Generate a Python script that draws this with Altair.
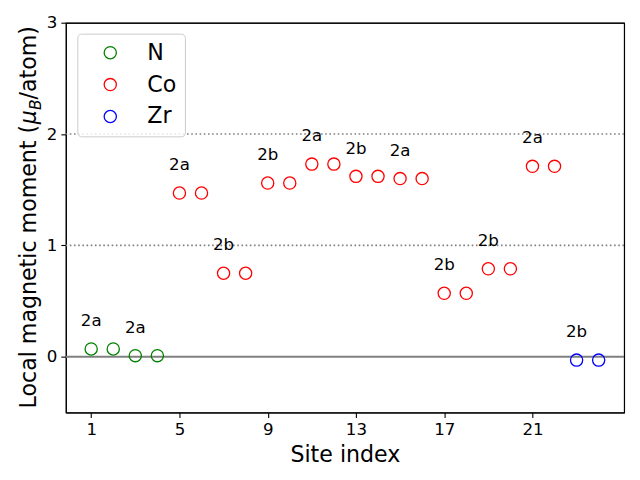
import altair as alt
import pandas as pd

# ---- data ----
sites = list(range(1, 25))
species = ["N"] * 4 + ["Co"] * 18 + ["Zr"] * 2
moments = [0.07, 0.07, 0.01, 0.01,
           1.47, 1.47, 0.75, 0.75, 1.56, 1.56, 1.73, 1.73,
           1.62, 1.62, 1.60, 1.60, 0.57, 0.57, 0.79, 0.79,
           1.71, 1.71,
           -0.03, -0.03]
label_sites = [1, 3, 5, 7, 9, 11, 13, 15, 17, 19, 21, 23]
wyckoff = ["2a", "2a", "2a", "2b", "2b", "2a", "2b", "2a", "2b", "2b", "2a", "2b"]
species_order = ["N", "Co", "Zr"]
species_colors = ["green", "red", "blue"]
ref_levels = [0, 1, 2]
ref_dash = ["solid", "dot", "dot"]
x_ticks = [1, 5, 9, 13, 17, 21]
y_ticks = [0, 1, 2, 3]
x_domain = [-0.15, 25.15]
y_domain = [-0.5, 3]
ytitle_parts = ["Local magnetic moment (", "μ", "B", "/atom)"]

df = pd.DataFrame({"site": sites, "species": species, "moment": moments})
mom = dict(zip(sites, moments))
lab = pd.DataFrame({"site": label_sites, "label": wyckoff,
                    "moment": [mom[s] for s in label_sites]})
ref = pd.DataFrame({"level": ref_levels, "dash": ref_dash})
one = pd.DataFrame({"a": [0]})

FONT = "DejaVu Sans"
W, H = 560, 391
FS_T = 22.2

xscale = alt.Scale(domain=x_domain, nice=False, zero=False)
yscale = alt.Scale(domain=y_domain, nice=False, zero=False)

xaxis = alt.Axis(values=x_ticks, title="Site index", grid=False, format="d", orient="bottom",
                 labelFontSize=16.7, titleFontSize=FS_T, labelFont=FONT, titleFont=FONT,
                 titleFontWeight="normal", labelColor="black", titleColor="black",
                 tickColor="black", domainColor="black", tickSize=5, tickWidth=1.1,
                 domainWidth=1.1, labelPadding=4, titlePadding=6, labelFlush=False)
yaxis = alt.Axis(values=y_ticks, title=None, grid=False, format="d", orient="left",
                 labelFontSize=16.7, labelFont=FONT, labelColor="black",
                 tickColor="black", domainColor="black", tickSize=5, tickWidth=1.1,
                 domainWidth=1.1, labelPadding=4, labelFlush=False)
top_axis = alt.Axis(orient="top", labels=False, ticks=False, grid=False, title=None,
                    domainColor="black", domainWidth=1.1)
right_axis = alt.Axis(orient="right", labels=False, ticks=False, grid=False, title=None,
                      domainColor="black", domainWidth=1.1)

# invisible layer that only carries the top and right spines
frame = alt.Chart(df).mark_point(opacity=0).encode(
    x=alt.X("site:Q", scale=xscale, axis=top_axis),
    y=alt.Y("moment:Q", scale=yscale, axis=right_axis))

rules_solid = alt.Chart(ref).transform_filter(alt.datum.dash == "solid").mark_rule(
    color="#808080", strokeWidth=2).encode(y=alt.Y("level:Q", scale=yscale, axis=yaxis))
rules_dot = alt.Chart(ref).transform_filter(alt.datum.dash == "dot").mark_rule(
    color="#808080", strokeWidth=1.6, strokeDash=[1.6, 2.6]).encode(
    y=alt.Y("level:Q", scale=yscale, axis=None))

points = alt.Chart(df).mark_point(shape="circle", filled=False, size=150, strokeWidth=1.3,
                                  opacity=1).encode(
    x=alt.X("site:Q", scale=xscale, axis=xaxis),
    y=alt.Y("moment:Q", scale=yscale, axis=None),
    color=alt.Color("species:N",
                    scale=alt.Scale(domain=species_order, range=species_colors),
                    sort=species_order,
                    legend=alt.Legend(title=None, orient="none", legendX=11.5, legendY=11,
                                      labelFontSize=FS_T, labelFont=FONT, labelColor="black",
                                      symbolSize=150, symbolStrokeWidth=1.3, symbolType="circle",
                                      symbolFillColor="transparent", symbolOpacity=1,
                                      padding=8, symbolOffset=14, labelOffset=26,
                                      rowPadding=9, fillColor="rgba(255,255,255,0.8)",
                                      strokeColor="#cccccc", cornerRadius=4)),
)

texts = alt.Chart(lab).transform_calculate(ly="datum.moment + 0.25").mark_text(
    fontSize=16.7, font=FONT, color="black", baseline="middle", align="center").encode(
    x=alt.X("site:Q", scale=xscale, axis=None),
    y=alt.Y("ly:Q", scale=yscale, axis=None),
    text="label:N")

# y-axis title built from pieces (italic mu with subscript B)
TX = -29.5
y_bottom = 387
seg1_len = 12.846 * FS_T
y_mu = y_bottom - seg1_len
y_top = 3.4
seg4_len = 3.318 * FS_T
y_b_end = y_top + seg4_len

t1 = alt.Chart(one).mark_text(angle=270, align="left", baseline="alphabetic",
                              font=FONT, fontSize=FS_T, color="black").encode(
    x=alt.value(TX), y=alt.value(y_bottom), text=alt.value(ytitle_parts[0]))
t2 = alt.Chart(one).mark_text(angle=270, align="left", baseline="alphabetic",
                              font=FONT, fontSize=FS_T, fontStyle="italic", color="black").encode(
    x=alt.value(TX), y=alt.value(y_mu), text=alt.value(ytitle_parts[1]))
t3 = alt.Chart(one).mark_text(angle=270, align="right", baseline="alphabetic",
                              font=FONT, fontSize=15.5, fontStyle="italic", color="black").encode(
    x=alt.value(TX + 4.5), y=alt.value(y_b_end), text=alt.value(ytitle_parts[2]))
t4 = alt.Chart(one).mark_text(angle=270, align="right", baseline="alphabetic",
                              font=FONT, fontSize=FS_T, color="black").encode(
    x=alt.value(TX), y=alt.value(y_top), text=alt.value(ytitle_parts[3]))

chart = alt.layer(frame, rules_solid, rules_dot, points, texts,
                  t1, t2, t3, t4).resolve_axis(x="independent", y="independent").properties(
    width=W, height=H,
    autosize=alt.AutoSizeParams(type="none"),
    padding={"left": 58, "top": 14, "right": 8, "bottom": 60},
    background="white",
).configure_view(stroke="black", strokeWidth=1.1)

chart.save("out.html", embed_options={"renderer": "svg", "actions": False})
